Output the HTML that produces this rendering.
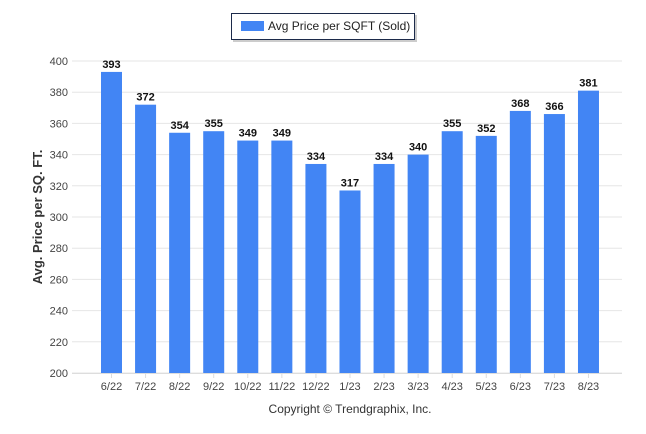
<!DOCTYPE html>
<html><head><meta charset="utf-8"><style>
body{margin:0;background:#fff;font-family:"Liberation Sans",Arial,sans-serif}
svg{display:block}
</style></head><body>
<svg id="chart" width="646" height="434">
<g>
<rect x="233" y="15" width="184" height="27" fill="#ccc"/>
<rect x="231.5" y="13.5" width="183" height="26" fill="#fff" stroke="#1c2a4a"/>
<rect x="241" y="21" width="23" height="10" fill="#4285f4"/>
<text x="268" y="30" font-size="12" fill="#222">Avg Price per SQFT (Sold)</text>
</g>
<text transform="translate(42,217) rotate(-90)" text-anchor="middle" font-size="13" font-weight="bold" fill="#333">Avg. Price per SQ. FT.</text>
<text x="350" y="413" text-anchor="middle" font-size="12" fill="#333">Copyright © Trendgraphix, Inc.</text>
<g id="grid"></g><g id="bars"></g>
</svg>
<script>
const categories=["6/22","7/22","8/22","9/22","10/22","11/22","12/22","1/23","2/23","3/23","4/23","5/23","6/23","7/23","8/23"];
const values=[393,372,354,355,349,349,334,317,334,340,355,352,368,366,381];
const yTicks=[200,220,240,260,280,300,320,340,360,380,400];
const NS="http://www.w3.org/2000/svg";
const y=v=>373-(v-200)*(312/200);
const x=i=>111.5+i*34.07;
const grid=document.getElementById('grid'),bars=document.getElementById('bars');
function mk(tag,attrs,p){const e=document.createElementNS(NS,tag);for(const k in attrs)e.setAttribute(k,attrs[k]);p.appendChild(e);return e;}
yTicks.forEach(t=>{
 const l=mk('line',{x1:72,x2:622,y1:y(t),y2:y(t),stroke:'#e6e6e6'},grid);
 
 
 const tx=mk('text',{x:68,y:y(t)+4,'text-anchor':'end','font-size':11,fill:'#444'},grid);
 tx.textContent=t;
 
 
});
const base=mk('line',{x1:72,x2:622,y1:373.5,y2:373.5,stroke:'#ddd'},grid);


categories.forEach((c,i)=>{
 const cx=x(i),v=values[i];
 const r=mk('rect',{x:cx-10.5,y:y(v),width:21,height:373-y(v),fill:'#4285f4'},bars);
 
 
 const vl=mk('text',{x:cx,y:y(v)-4,'text-anchor':'middle','font-size':11,'font-weight':'bold',fill:'#111'},bars);
 vl.textContent=v;
 
 
 const tk=mk('line',{x1:cx,x2:cx,y1:373,y2:378,stroke:'#ddd'},bars);
 
 
 const xl=mk('text',{x:cx,y:390,'text-anchor':'middle','font-size':11,fill:'#444'},bars);
 xl.textContent=c;
 
 
});
</script>
</body></html>
